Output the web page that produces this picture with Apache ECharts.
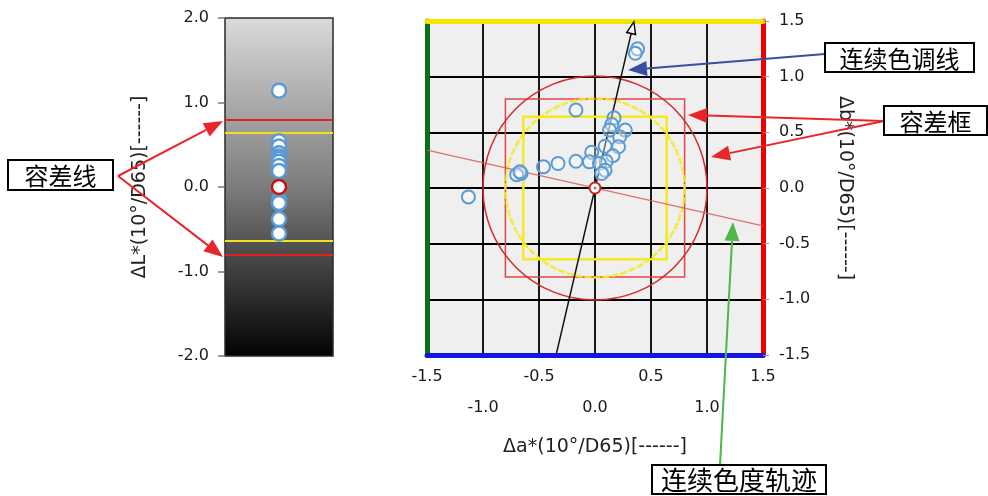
<!DOCTYPE html>
<html><head><meta charset="utf-8">
<script src="https://cdn.jsdelivr.net/npm/echarts@6/dist/echarts.min.js"></script>
<style>html,body{margin:0;padding:0;background:#fff}#c{width:988px;height:496px}</style>
</head><body><div id="c"></div>
<script>
// ---- data ----
const deltaL = [1.14, 0.54, 0.48, 0.40, 0.36, 0.33, 0.30, 0.25, 0.19, -0.15, -0.17, -0.19, -0.38, -0.55];
const deltaA = [0.38, 0.36, -0.17, 0.17, 0.15, 0.27, 0.13, 0.22, 0.21, 0.09, 0.16, -0.03, 0.10, -0.05, 0.04, 0.09, 0.06, -0.17, -0.33, -0.46, -0.66, -0.70, -0.67, -1.13];
const deltaB = [1.25, 1.21, 0.70, 0.63, 0.57, 0.52, 0.52, 0.46, 0.37, 0.375, 0.29, 0.32, 0.24, 0.235, 0.22, 0.16, 0.13, 0.24, 0.22, 0.19, 0.13, 0.12, 0.145, -0.08];
const lTicks = [-2, 2, 1];          // min, max, interval
const abTicks = [-1.5, 1.5, 0.5];   // min, max, interval
const redTol = 0.8;
const yellowTol = 0.64;
const redCircleR = 1.0;
const yellowCircleR = 0.8;
const hueLineA = [-0.345, 0.335];
const hueLineB = [-1.49, 1.44];
const chromaLineA = [-1.5, 1.5];
const chromaLineB = [0.34, -0.34];
const axisNameL = 'ΔL*(10°/D65)[------]';
const axisNameA = 'Δa*(10°/D65)[------]';
const axisNameB = 'Δb*(10°/D65)[------]';

const FONT = '"DejaVu Sans", sans-serif';
const CJK = '"Noto Sans CJK SC", sans-serif';
const ptBlue = '#5b9bd5';

function tolShape(kind, color, width, dash) {
  return function (params, api) {
    const r = api.value(2);
    const c = api.coord([api.value(0), api.value(1)]);
    const p1 = api.coord([api.value(0) - r, api.value(1) + r]);
    const p2 = api.coord([api.value(0) + r, api.value(1) - r]);
    const style = { fill: 'none', stroke: color, lineWidth: width, lineDash: dash || null };
    if (kind === 'circle') {
      return { type: 'circle', shape: { cx: c[0], cy: c[1], r: (p2[0] - p1[0]) / 2 }, style: style };
    }
    return { type: 'rect', shape: { x: p1[0], y: p1[1], width: p2[0] - p1[0], height: p2[1] - p1[1] }, style: style };
  };
}

function arrow(x1, y1, x2, y2, color) {
  const ang = Math.atan2(y2 - y1, x2 - x1);
  const len = 19, half = 7.5;
  const bx = x2 - len * Math.cos(ang), by = y2 - len * Math.sin(ang);
  const px = -Math.sin(ang) * half, py = Math.cos(ang) * half;
  return [
    { type: 'line', z: 100, shape: { x1: x1, y1: y1, x2: bx, y2: by }, style: { stroke: color, lineWidth: 2 } },
    { type: 'polygon', z: 100, shape: { points: [[x2, y2], [bx + px, by + py], [bx - px, by - py]] }, style: { fill: color } }
  ];
}
function box(x, y, w, h, text, fs) {
  return [
    { type: 'rect', z: 100, shape: { x: x, y: y, width: w, height: h }, style: { fill: '#fff', stroke: '#000', lineWidth: 2 } },
    { type: 'text', z: 101, style: { text: text, x: x + w / 2, y: y + h / 2 + 1, align: 'center', verticalAlign: 'middle', font: (fs || 24) + 'px ' + CJK, fill: '#000' } }
  ];
}

const graphics = [].concat(
  arrow(118, 176, 223, 121, '#e8262a'),
  arrow(118, 176, 223, 257, '#e8262a'),
  arrow(825, 54, 628, 70, '#3a4ea0'),
  arrow(884, 121, 688, 115, '#e8262a'),
  arrow(884, 121, 711, 157, '#e8262a'),
  arrow(720, 465, 733, 222, '#4cb848'),
  box(8, 160, 105, 30, '容差线', 24),
  box(825, 43, 149, 29, '连续色调线', 24),
  box(884, 106, 103, 29, '容差框', 24),
  box(652, 465, 174, 29, '连续色度轨迹', 26)
);

const chart = echarts.init(document.getElementById('c'), null, { renderer: 'canvas' });
const fmt = v => v.toFixed(1);
const isHalf = v => Math.abs(Math.round(v * 2)) % 2 === 1;
const nameStyle = { fontSize: 19, color: '#222', fontFamily: FONT };
const labStyle = { fontSize: 16, color: '#1a1a1a', fontFamily: FONT };

chart.setOption({
  animation: false,
  backgroundColor: '#fff',
  textStyle: { fontFamily: FONT },
  grid: [
    { left: 225, top: 18, width: 108, height: 338, show: true, borderColor: '#2a2a2a', borderWidth: 1.5,
      backgroundColor: { type: 'linear', x: 0, y: 0, x2: 0, y2: 1, colorStops: [
        { offset: 0, color: '#dadada' }, { offset: 0.25, color: '#ababab' }, { offset: 0.5, color: '#7c7c7c' },
        { offset: 0.75, color: '#3e3e3e' }, { offset: 1, color: '#020202' }] } },
    { left: 427, top: 21, width: 336, height: 334, show: true, backgroundColor: '#efefef', borderWidth: 0 }
  ],
  xAxis: [
    { gridIndex: 0, type: 'value', min: -1, max: 1, show: false },
    { gridIndex: 1, type: 'value', position: 'bottom', min: abTicks[0], max: abTicks[1], interval: abTicks[2],
      axisLine: { show: true, onZero: false, lineStyle: { color: '#1515e0', width: 5 } }, axisTick: { show: false },
      splitLine: { show: true, lineStyle: { color: '#000', width: 1.8 } },
      axisLabel: Object.assign({ formatter: v => isHalf(v) ? fmt(v) : '', margin: 14 }, labStyle),
      name: axisNameA, nameLocation: 'middle', nameGap: 83, nameTextStyle: nameStyle },
    { gridIndex: 1, type: 'value', position: 'bottom', offset: 31, min: abTicks[0], max: abTicks[1], interval: abTicks[2],
      axisLine: { show: false, onZero: false }, axisTick: { show: false }, splitLine: { show: false },
      axisLabel: Object.assign({ formatter: v => isHalf(v) ? '' : fmt(v), margin: 14 }, labStyle) },
    { gridIndex: 1, type: 'value', position: 'top', min: abTicks[0], max: abTicks[1], interval: abTicks[2],
      axisLine: { show: true, onZero: false, lineStyle: { color: '#f2e600', width: 5 } }, axisTick: { show: false },
      splitLine: { show: false }, axisLabel: { show: false } }
  ],
  yAxis: [
    { gridIndex: 0, type: 'value', min: lTicks[0], max: lTicks[1], interval: lTicks[2],
      axisLine: { show: false, onZero: false }, axisTick: { show: true, length: 7, lineStyle: { color: '#777', width: 1.5 } },
      splitLine: { show: false },
      axisLabel: Object.assign({ formatter: fmt, margin: 16 }, labStyle),
      name: axisNameL, nameLocation: 'middle', nameRotate: 90, nameGap: 75, nameTextStyle: nameStyle },
    { gridIndex: 1, type: 'value', position: 'right', min: abTicks[0], max: abTicks[1], interval: abTicks[2],
      axisLine: { show: true, onZero: false, lineStyle: { color: '#ee0000', width: 5 } },
      axisTick: { show: true, length: 6, lineStyle: { color: '#999' } },
      splitLine: { show: true, lineStyle: { color: '#000', width: 1.8 } },
      axisLabel: Object.assign({ formatter: fmt, margin: 16 }, labStyle),
      name: axisNameB, nameLocation: 'middle', nameRotate: -90, nameGap: 72, nameTextStyle: nameStyle },
    { gridIndex: 1, type: 'value', position: 'left', min: abTicks[0], max: abTicks[1], interval: abTicks[2],
      axisLine: { show: true, onZero: false, lineStyle: { color: '#0a6e14', width: 5 } }, axisTick: { show: false },
      splitLine: { show: false }, axisLabel: { show: false } }
  ],
  series: [
    { type: 'scatter', xAxisIndex: 0, yAxisIndex: 0, z: 5,
      data: deltaL.map(l => [0, l]), symbol: 'circle', symbolSize: 14,
      itemStyle: { color: '#fff', borderColor: ptBlue, borderWidth: 2.5, opacity: 1 },
      markLine: { silent: true, symbol: 'none', label: { show: false }, animation: false,
        data: [
          { yAxis: redTol, lineStyle: { color: '#e02020', width: 2, type: 'solid' } },
          { yAxis: -redTol, lineStyle: { color: '#e02020', width: 2, type: 'solid' } },
          { yAxis: yellowTol, lineStyle: { color: '#f0e020', width: 2, type: 'solid' } },
          { yAxis: -yellowTol, lineStyle: { color: '#f0e020', width: 2, type: 'solid' } }
        ] } },
    { type: 'scatter', xAxisIndex: 0, yAxisIndex: 0, z: 6, data: [[0, 0]], symbol: 'circle', symbolSize: 14,
      itemStyle: { color: '#fff', borderColor: '#cc1010', borderWidth: 2.5, opacity: 1 } },

    { type: 'custom', xAxisIndex: 1, yAxisIndex: 1, z: 3, data: [[0, 0, redTol]], encode: { x: 0, y: 1 },
      renderItem: tolShape('rect', '#e04848', 1.5), silent: true },
    { type: 'custom', xAxisIndex: 1, yAxisIndex: 1, z: 3, data: [[0, 0, yellowTol]], encode: { x: 0, y: 1 },
      renderItem: tolShape('rect', '#f4ea20', 2.5), silent: true },
    { type: 'custom', xAxisIndex: 1, yAxisIndex: 1, z: 3, data: [[0, 0, yellowCircleR]], encode: { x: 0, y: 1 },
      renderItem: tolShape('circle', 'rgba(244,234,32,0.9)', 2.5, [7, 2]), silent: true },
    { type: 'custom', xAxisIndex: 1, yAxisIndex: 1, z: 3, data: [[0, 0, redCircleR]], encode: { x: 0, y: 1 },
      renderItem: tolShape('circle', '#d42a2a', 1.5), silent: true },

    { type: 'line', xAxisIndex: 1, yAxisIndex: 1, z: 4, symbol: 'none', silent: true,
      data: chromaLineA.map((a, i) => [a, chromaLineB[i]]),
      lineStyle: { color: 'rgba(220,90,90,0.85)', width: 1.2 } },
    { type: 'line', xAxisIndex: 1, yAxisIndex: 1, z: 4, silent: true, showSymbol: true,
      data: [
        { value: [hueLineA[0], hueLineB[0]], symbol: 'none' },
        { value: [hueLineA[1], hueLineB[1]], symbol: 'triangle', symbolSize: [9, 12], symbolRotate: -13,
          itemStyle: { color: '#f4f4f4', borderColor: '#000', borderWidth: 1.5 } }
      ],
      lineStyle: { color: '#111', width: 1.5 } },

    { type: 'scatter', xAxisIndex: 1, yAxisIndex: 1, z: 5,
      data: deltaA.map((a, i) => [a, deltaB[i]]), symbol: 'circle', symbolSize: 13,
      itemStyle: { color: 'rgba(255,255,255,0.35)', borderColor: ptBlue, borderWidth: 2, opacity: 1 } },
    { type: 'scatter', xAxisIndex: 1, yAxisIndex: 1, z: 6, data: [[0, 0]], symbol: 'circle', symbolSize: 11,
      itemStyle: { color: '#fff', borderColor: '#d02020', borderWidth: 2, opacity: 1 } },
    { type: 'scatter', xAxisIndex: 1, yAxisIndex: 1, z: 7, data: [[0, 0]], symbol: 'circle', symbolSize: 3,
      itemStyle: { color: '#888', opacity: 1 } }
  ],
  graphic: graphics
});
</script>
</body></html>
